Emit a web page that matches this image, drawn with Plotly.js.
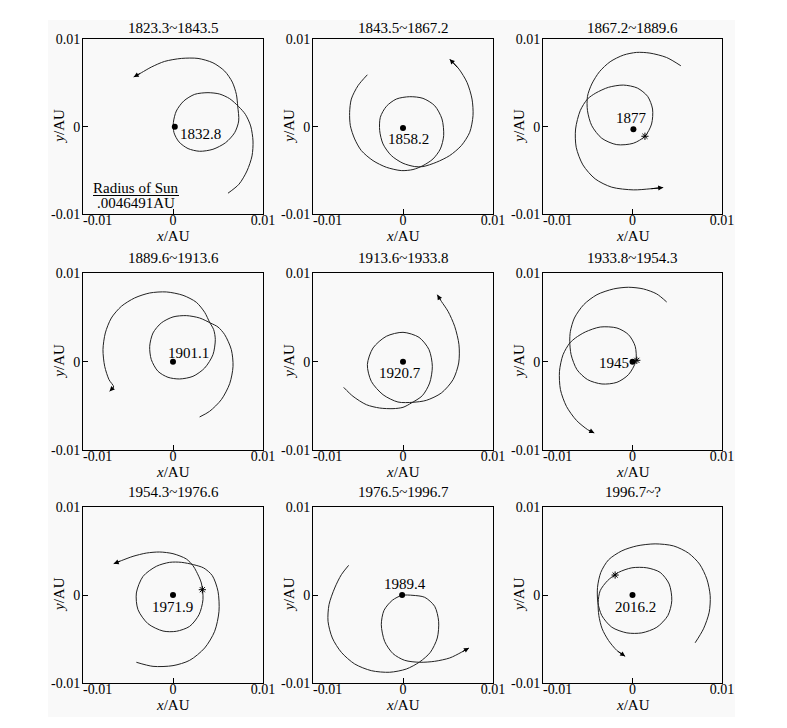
<!DOCTYPE html>
<html><head><meta charset="utf-8">
<script src="https://cdn.plot.ly/plotly-3.0.1.min.js"></script>
<style>body{margin:0;background:#fff}</style>
</head><body><div id="chart" style="width:787px;height:728px"></div>
<script>
const panelTitles = ["1823.3~1843.5","1843.5~1867.2","1867.2~1889.6","1889.6~1913.6","1913.6~1933.8","1933.8~1954.3","1954.3~1976.6","1976.5~1996.7","1996.7~?"];
const centerYears = ["1832.8","1858.2","1877","1901.1","1920.7","1945","1971.9","1989.4","2016.2"];
const centerX = [0.0002,0,0.0001,0,0,0,0,-0.0001,0];
const centerY = [0,-0.00015,-0.0003,0,0,0,0,0,0];
const tickVals = [-0.01,0,0.01];
const xTickText = ["-0.01","0","0.01"];
const yTickText = ["-0.01","0","0.01"];
const sunRadiusText = ["Radius of Sun",".0046491AU"];

// small marks (planet alignment symbols)
const markPanel = [2,5,6,8];
const markX = [0.00139,0.00048,0.00326,-0.00194];
const markY = [-0.0011,0.00015,0.0006,0.00226];

const p1x = [0.00611,0.00733,0.00822,0.00878,0.00889,0.00863,0.00804,0.00730,0.00630,0.00519,0.00389,0.00241,0.00119,0.00037,0.00004,0.00011,0.00067,0.00167,0.00296,0.00444,0.00585,0.00685,0.00730,0.00719,0.00704,0.00659,0.00574,0.00444,0.00278,0.00093,-0.00093,-0.00241,-0.00352,-0.00437];
const p1y = [-0.00762,-0.00659,-0.00507,-0.00335,-0.00164,0.00008,0.00141,0.00229,0.00320,0.00373,0.00389,0.00370,0.00293,0.00179,0.00046,-0.00069,-0.00175,-0.00251,-0.00282,-0.00259,-0.00183,-0.00069,0.00065,0.00236,0.00370,0.00510,0.00636,0.00731,0.00781,0.00781,0.00747,0.00682,0.00617,0.00568];

const p2x = [-0.00396,-0.00500,-0.00574,-0.00593,-0.00585,-0.00537,-0.00463,-0.00333,-0.00185,-0.00019,0.00111,0.00222,0.00333,0.00415,0.00452,0.00433,0.00352,0.00222,0.00074,-0.00074,-0.00185,-0.00252,-0.00259,-0.00222,-0.00130,0.00000,0.00130,0.00222,0.00370,0.00519,0.00648,0.00741,0.00778,0.00767,0.00711,0.00622,0.00519];
const p2y = [0.00594,0.00469,0.00316,0.00164,0.00011,-0.00141,-0.00274,-0.00389,-0.00465,-0.00503,-0.00491,-0.00446,-0.00370,-0.00255,-0.00103,0.00088,0.00240,0.00324,0.00343,0.00316,0.00232,0.00107,-0.00046,-0.00198,-0.00331,-0.00419,-0.00457,-0.00457,-0.00408,-0.00331,-0.00217,-0.00065,0.00126,0.00316,0.00507,0.00659,0.00773];

const p3x = [0.00540,0.00380,0.00195,0.00046,-0.00102,-0.00250,-0.00369,-0.00455,-0.00503,-0.00503,-0.00455,-0.00343,-0.00176,0.00009,0.00139,0.00213,0.00224,0.00169,0.00054,-0.00102,-0.00269,-0.00410,-0.00503,-0.00584,-0.00636,-0.00629,-0.00554,-0.00417,-0.00232,0.00009,0.00195,0.00343];
const p3y = [0.00697,0.00792,0.00842,0.00850,0.00819,0.00743,0.00629,0.00488,0.00347,0.00183,0.00011,-0.00133,-0.00206,-0.00190,-0.00110,0.00030,0.00202,0.00347,0.00442,0.00476,0.00450,0.00385,0.00316,0.00183,-0.00027,-0.00236,-0.00438,-0.00598,-0.00693,-0.00724,-0.00712,-0.00697];

const p4x = [0.00296,0.00407,0.00537,0.00630,0.00667,0.00648,0.00574,0.00500,0.00415,0.00296,0.00148,0.00000,-0.00130,-0.00222,-0.00259,-0.00241,-0.00167,-0.00056,0.00074,0.00222,0.00352,0.00444,0.00470,0.00452,0.00407,0.00352,0.00259,0.00111,-0.00074,-0.00259,-0.00426,-0.00574,-0.00685,-0.00752,-0.00778,-0.00759,-0.00711,-0.00659,-0.00704];
const p4y = [-0.00626,-0.00562,-0.00430,-0.00249,-0.00053,0.00136,0.00306,0.00392,0.00438,0.00494,0.00521,0.00506,0.00438,0.00325,0.00174,0.00023,-0.00109,-0.00177,-0.00196,-0.00166,-0.00072,0.00079,0.00249,0.00362,0.00445,0.00558,0.00672,0.00751,0.00789,0.00777,0.00721,0.00626,0.00494,0.00325,0.00136,-0.00053,-0.00204,-0.00287,-0.00336];

const p5x = [-0.00659,-0.00556,-0.00407,-0.00259,-0.00111,0.00000,0.00093,0.00215,0.00296,0.00326,0.00289,0.00178,0.00000,-0.00185,-0.00333,-0.00396,-0.00352,-0.00222,-0.00056,0.00111,0.00259,0.00426,0.00556,0.00619,0.00622,0.00574,0.00500,0.00426,0.00381];
const p5y = [-0.00291,-0.00392,-0.00487,-0.00525,-0.00532,-0.00517,-0.00468,-0.00385,-0.00242,-0.00053,0.00136,0.00275,0.00332,0.00287,0.00155,-0.00034,-0.00223,-0.00374,-0.00457,-0.00460,-0.00438,-0.00355,-0.00204,-0.00015,0.00192,0.00400,0.00570,0.00683,0.00758];

const p6x = [0.00382,0.00271,0.00122,-0.00045,-0.00212,-0.00397,-0.00545,-0.00649,-0.00694,-0.00701,-0.00686,-0.00620,-0.00501,-0.00341,-0.00174,-0.00045,0.00037,0.00030,-0.00045,-0.00174,-0.00360,-0.00527,-0.00638,-0.00701,-0.00776,-0.00816,-0.00805,-0.00738,-0.00627,-0.00501,-0.00427];
const p6y = [0.00675,0.00766,0.00823,0.00842,0.00823,0.00758,0.00645,0.00494,0.00343,0.00230,0.00079,-0.00091,-0.00204,-0.00253,-0.00234,-0.00147,0.00004,0.00174,0.00306,0.00381,0.00392,0.00336,0.00268,0.00211,0.00079,-0.00109,-0.00317,-0.00506,-0.00664,-0.00770,-0.00808];

const p7x = [-0.00407,-0.00222,0.00000,0.00185,0.00352,0.00463,0.00511,0.00500,0.00437,0.00341,0.00230,0.00093,-0.00037,-0.00185,-0.00333,-0.00407,-0.00389,-0.00278,-0.00111,0.00037,0.00185,0.00289,0.00333,0.00315,0.00259,0.00222,0.00148,0.00000,-0.00148,-0.00296,-0.00444,-0.00574,-0.00659];
const p7y = [-0.00762,-0.00808,-0.00800,-0.00740,-0.00600,-0.00411,-0.00185,0.00042,0.00219,0.00306,0.00343,0.00370,0.00370,0.00325,0.00211,0.00023,-0.00166,-0.00325,-0.00408,-0.00411,-0.00355,-0.00223,-0.00053,0.00136,0.00268,0.00332,0.00408,0.00468,0.00487,0.00475,0.00438,0.00389,0.00355];

const p8x = [-0.00604,-0.00685,-0.00759,-0.00822,-0.00833,-0.00785,-0.00685,-0.00537,-0.00352,-0.00148,0.00037,0.00185,0.00304,0.00381,0.00396,0.00352,0.00241,0.00111,-0.00011,-0.00119,-0.00211,-0.00241,-0.00204,-0.00111,0.00019,0.00185,0.00352,0.00519,0.00648,0.00733];
const p8y = [0.00336,0.00230,0.00079,-0.00109,-0.00298,-0.00487,-0.00649,-0.00781,-0.00857,-0.00875,-0.00838,-0.00758,-0.00649,-0.00487,-0.00298,-0.00128,-0.00026,-0.00004,-0.00004,-0.00060,-0.00174,-0.00336,-0.00525,-0.00664,-0.00740,-0.00762,-0.00751,-0.00713,-0.00649,-0.00600];

const p9x = [0.00700,0.00793,0.00857,0.00868,0.00831,0.00749,0.00626,0.00458,0.00253,0.00048,-0.00119,-0.00268,-0.00354,-0.00391,-0.00387,-0.00343,-0.00231,-0.00063,0.00104,0.00272,0.00395,0.00439,0.00410,0.00309,0.00160,-0.00007,-0.00156,-0.00279,-0.00361,-0.00384,-0.00376,-0.00339,-0.00268,-0.00175,-0.00082];
const p9y = [-0.00541,-0.00383,-0.00195,-0.00008,0.00180,0.00350,0.00474,0.00556,0.00579,0.00556,0.00500,0.00398,0.00256,0.00086,-0.00083,-0.00233,-0.00365,-0.00429,-0.00429,-0.00365,-0.00233,-0.00064,0.00124,0.00256,0.00308,0.00308,0.00256,0.00162,0.00049,-0.00083,-0.00233,-0.00383,-0.00515,-0.00628,-0.00695];

const pathX = [p1x,p2x,p3x,p4x,p5x,p6x,p7x,p8x,p9x];
const pathY = [p1y,p2y,p3y,p4y,p5y,p6y,p7y,p8y,p9y];

// ---- layout / styling ----
const W = 787, H = 728;
const FONT = '"Liberation Serif", "Times New Roman", serif';
const colDom = [[83/W,263/W],[313/W,493/W],[543/W,722/W]];
const rowDom = [[1-214/H,1-39.3/H],[1-450/H,1-273.3/H],[1-683.3/H,1-506.7/H]];
const titleGap = [11,15,15];
// label offsets in px [dx, dy]
const labelShift = [[26,-7],[5,-11],[-2,11],[15,9],[-3,-11],[-19,-1],[-1,-12],[3,11],[3,-12]];

const traces = [];
const layout = {
  width: W, height: H,
  margin: {l:0,r:0,t:0,b:0},
  paper_bgcolor: '#ffffff',
  plot_bgcolor: 'rgba(0,0,0,0)',
  showlegend: false,
  font: {family: FONT, size: 14, color: '#000'},
  annotations: [],
  shapes: [{type:'rect', xref:'paper', yref:'paper', x0:48/W, x1:735/W, y0:1-717/H, y1:1-20/H,
            fillcolor:'#f9f9f9', line:{width:0}, layer:'below'}]
};

for (let i = 0; i < 9; i++) {
  const r = Math.floor(i/3), c = i % 3;
  const n = i === 0 ? '' : String(i+1);
  const xa = 'x'+n, ya = 'y'+n;
  const axCommon = {
    range: [-0.01, 0.01], tickmode: 'array', tickvals: tickVals,
    ticks: 'inside', ticklen: 5, tickwidth: 1, tickcolor: '#000',
    showline: true, mirror: true, linecolor: '#000', linewidth: 1,
    showgrid: false, zeroline: false, fixedrange: true,
    tickfont: {family: FONT, size: 14, color: '#000'}
  };
  // the leftmost x label sits right of the corner (drawn below as left-anchored text)
  const xAxisText = xTickText.map((t, k) => k === 0 ? '' : t);
  layout['xaxis'+n] = Object.assign({}, axCommon, {domain: colDom[c], anchor: ya, ticktext: xAxisText, ticklabelstandoff: -7});
  layout['yaxis'+n] = Object.assign({}, axCommon, {domain: rowDom[r], anchor: xa, ticktext: yTickText, ticklabelstandoff: -1});

  layout.annotations.push({xref:xa, yref:ya, x: tickVals[0], y: tickVals[0], text: xTickText[0],
    showarrow:false, xanchor:'left', yanchor:'middle', xshift:-2, yshift:-6, font:{family:FONT, size:14, color:'#000'}});

  traces.push({type:'scatter', mode:'lines', x: pathX[i], y: pathY[i], xaxis: xa, yaxis: ya,
    line: {color:'#222', width:1, shape:'spline', smoothing:0.8}, hoverinfo:'skip'});
  traces.push({type:'scatter', mode:'markers', x:[centerX[i]], y:[centerY[i]], xaxis: xa, yaxis: ya,
    marker:{color:'#000', size:6}, hoverinfo:'skip'});

  const L = pathX[i].length;
  layout.annotations.push({xref:xa, yref:ya, axref:xa, ayref:ya,
    x: pathX[i][L-1], y: pathY[i][L-1], ax: pathX[i][L-2], ay: pathY[i][L-2],
    text:'', showarrow:true, arrowhead:2, arrowsize:1, arrowwidth:1, arrowcolor:'#000'});

  layout.annotations.push({xref:xa, yref:ya, x: centerX[i], y: centerY[i], text: centerYears[i],
    showarrow:false, xanchor:'center', yanchor:'middle', xshift: labelShift[i][0], yshift: labelShift[i][1],
    font:{family:FONT, size:15, color:'#000'}});

  const cx = (colDom[c][0]+colDom[c][1])/2, cy = (rowDom[r][0]+rowDom[r][1])/2;
  layout.annotations.push({xref:'paper', yref:'paper', x: cx, y: rowDom[r][1], yshift: titleGap[r],
    text: panelTitles[i], showarrow:false, xanchor:'center', yanchor:'middle', font:{family:FONT, size:15, color:'#000'}});
  layout.annotations.push({xref:'paper', yref:'paper', x: cx, y: rowDom[r][0], yshift: -22,
    text: '<i>x</i>/AU', showarrow:false, xanchor:'center', yanchor:'middle', font:{family:FONT, size:15, color:'#000'}});
  layout.annotations.push({xref:'paper', yref:'paper', x: colDom[c][0], xshift: -24, y: cy,
    text: '<i>y</i>/AU', textangle:-90, showarrow:false, xanchor:'center', yanchor:'middle', font:{family:FONT, size:15, color:'#000'}});
}

// alignment marks
markPanel.forEach((p, k) => {
  const n = p === 0 ? '' : String(p+1);
  traces.push({type:'scatter', mode:'markers', x:[markX[k]], y:[markY[k]], xaxis:'x'+n, yaxis:'y'+n,
    marker:{symbol:'asterisk-open', size:6, color:'#000', line:{color:'#000', width:1}}, hoverinfo:'skip'});
});

// Sun radius fraction in first panel
layout.annotations.push({xref:'paper', yref:'paper', x:136/W, y:1-188/H, text: sunRadiusText[0], showarrow:false,
  xanchor:'center', yanchor:'middle', font:{family:FONT, size:15, color:'#000'}});
layout.annotations.push({xref:'paper', yref:'paper', x:136/W, y:1-203/H, text: sunRadiusText[1], showarrow:false,
  xanchor:'center', yanchor:'middle', font:{family:FONT, size:15, color:'#000'}});
layout.shapes.push({type:'line', xref:'paper', yref:'paper', x0:93/W, x1:179/W, y0:1-195.5/H, y1:1-195.5/H,
  line:{color:'#000', width:1}});

Plotly.newPlot('chart', traces, layout, {staticPlot:true, displayModeBar:false});
</script>
</body></html>
